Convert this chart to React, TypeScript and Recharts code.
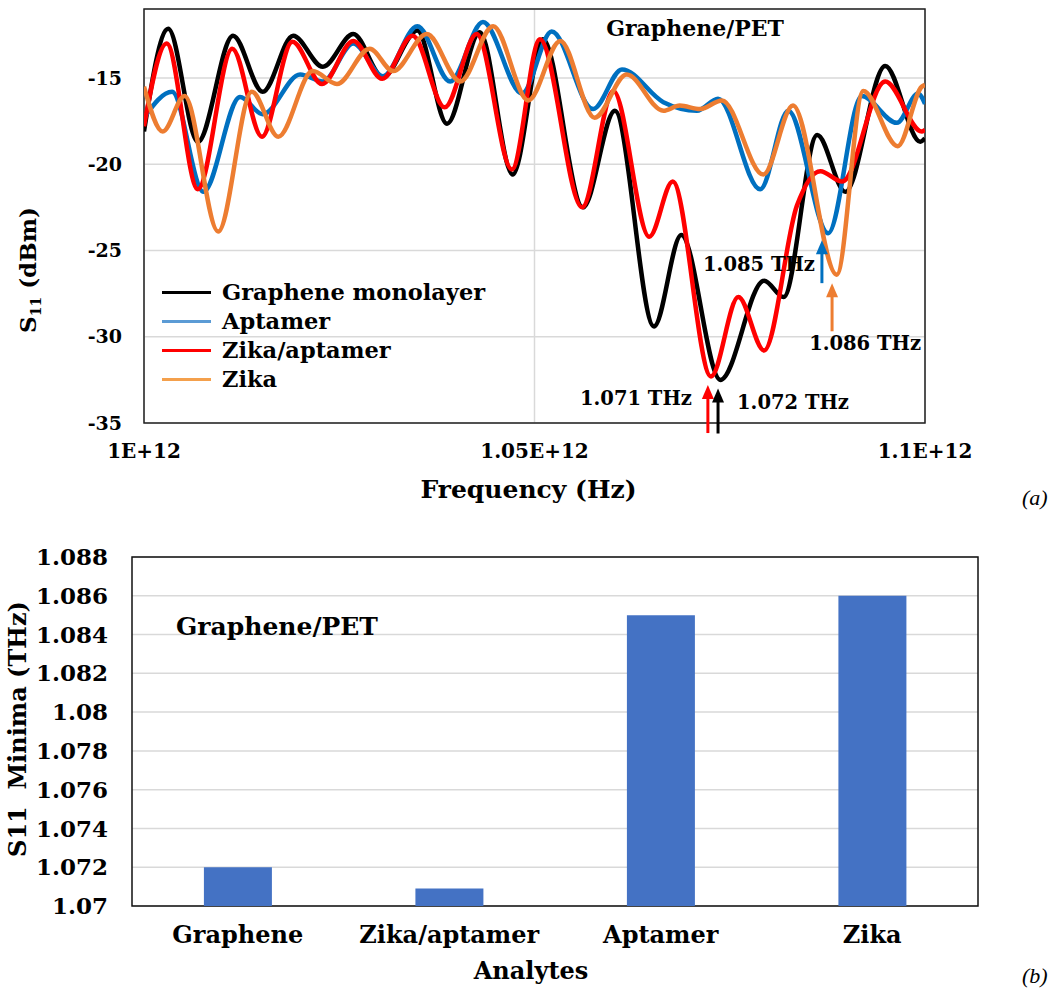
import React from 'react';
import {
  LineChart, Line, XAxis, YAxis, CartesianGrid, ReferenceArea, ReferenceDot, Legend,
  BarChart, Bar,
} from 'recharts';

const FONT = '"DejaVu Serif", Georgia, serif';
const TFONT = '"Liberation Serif", "Times New Roman", serif';

// ---------- Panel (a): S11 vs frequency (frequency in THz; axis shows Hz) ----------
const grapheneFreq = [1.0, 1.0031, 1.0069, 1.0114, 1.0152, 1.0191, 1.0229, 1.0268, 1.0306, 1.035, 1.0388, 1.043, 1.0472, 1.0511, 1.0562, 1.0603, 1.0653, 1.0688, 1.0738, 1.0794, 1.0819, 1.0862, 1.0898, 1.0949, 1.0994, 1.1];
const grapheneS11 = [-18.1, -12.15, -18.7, -12.55, -15.8, -12.55, -14.35, -12.45, -14.95, -12.25, -17.65, -12.35, -20.6, -12.75, -22.5, -16.9, -29.4, -24.1, -32.5, -26.75, -27.7, -18.3, -21.6, -14.3, -18.7, -18.5];

const aptamerFreq = [1.0, 1.0036, 1.0076, 1.0123, 1.0152, 1.02, 1.0229, 1.0268, 1.0306, 1.035, 1.0392, 1.0434, 1.0484, 1.0522, 1.0575, 1.0612, 1.0665, 1.0708, 1.0735, 1.0789, 1.0825, 1.0876, 1.0919, 1.0964, 1.0991, 1.1];
const aptamerS11 = [-17.3, -15.8, -21.6, -16.1, -17.1, -14.8, -15.2, -13.0, -14.9, -12.0, -15.2, -11.75, -15.9, -12.3, -16.8, -14.5, -16.4, -16.9, -16.2, -21.45, -16.9, -24.0, -16.05, -17.6, -15.9, -16.5];

const zikaAptamerFreq = [1.0, 1.0029, 1.0069, 1.0113, 1.0151, 1.019, 1.0228, 1.0268, 1.0305, 1.0344, 1.0385, 1.0426, 1.0471, 1.0507, 1.0561, 1.0601, 1.0647, 1.0677, 1.0726, 1.0761, 1.0794, 1.0836, 1.0866, 1.0894, 1.0949, 1.0996, 1.1];
const zikaAptamerS11 = [-17.8, -13.0, -21.45, -13.3, -18.4, -12.9, -15.35, -12.85, -15.05, -12.55, -16.7, -12.45, -20.3, -12.75, -22.5, -15.75, -24.2, -21.0, -32.3, -27.7, -30.8, -22.4, -20.4, -21.0, -15.2, -18.1, -18.0];

const zikaFreq = [1.0, 1.0024, 1.0052, 1.0095, 1.0138, 1.0172, 1.0216, 1.0247, 1.0289, 1.0319, 1.0362, 1.0405, 1.0447, 1.0492, 1.0533, 1.0577, 1.0618, 1.0665, 1.0686, 1.0712, 1.074, 1.0793, 1.0831, 1.0887, 1.0921, 1.0965, 1.0996, 1.1];
const zikaS11 = [-15.5, -18.1, -16.05, -23.9, -15.8, -18.4, -14.6, -15.35, -13.3, -14.6, -12.45, -15.2, -12.0, -16.3, -12.85, -17.3, -14.8, -16.9, -16.6, -16.8, -16.3, -20.6, -16.6, -26.4, -15.75, -18.95, -15.5, -15.4];

const seriesNames = ['Graphene monolayer', 'Aptamer', 'Zika/aptamer', 'Zika'];
const seriesColors = ['#000000', '#0070C0', '#FF0000', '#ED7D31'];
const legendColors = ['#000000', '#5B9BD5', '#FF0000', '#F4A04C'];

const xTicks = [1.0, 1.05, 1.1];
const yTicks = [-35, -30, -25, -20, -15];

// Minima markers (arrow tip location) and labels
const markerFreqs = [1.0722, 1.0735, 1.0868, 1.0881];
const markerLevels = [-32.8, -33.0, -24.4, -26.9];
const markerLabels = ['1.071 THz', '1.072 THz', '1.085 THz', '1.086 THz'];
// styling for each marker: arrow length, label offsets, anchor
const markerStyle = [
  { color: '#FF0000', len: 48, dx: -16, dy: 20, anchor: 'end' },
  { color: '#000000', len: 45, dx: 19, dy: 20, anchor: 'start' },
  { color: '#0070C0', len: 43, dx: -7, dy: 31, anchor: 'end' },
  { color: '#ED7D31', len: 48, dx: 33, dy: 67, anchor: 'middle' },
];

// ---------- Panel (b): S11 minima ----------
const analytes = ['Graphene', 'Zika/aptamer', 'Aptamer', 'Zika'];
const minimaTHz = [1.072, 1.0709, 1.085, 1.086];
const minimaTicks = [1.07, 1.072, 1.074, 1.076, 1.078, 1.08, 1.082, 1.084, 1.086, 1.088];

const zip = (f: number[], v: number[]) => f.map((x, i) => ({ f: x, v: v[i] }));
const lineData = [
  zip(grapheneFreq, grapheneS11),
  zip(aptamerFreq, aptamerS11),
  zip(zikaAptamerFreq, zikaAptamerS11),
  zip(zikaFreq, zikaS11),
];
const barData = analytes.map((a, i) => ({ name: a, v: minimaTHz[i] }));

const fmtHz = (v: number) => (v === 1 ? '1E+12' : `${+v.toFixed(3)}E+12`);
const fmtTHz = (v: number) => `${+v.toFixed(3)}`;

const Arrow = (props: any) => {
  const { cx, cy, idx } = props;
  const s = markerStyle[idx];
  if (cx == null || cy == null) return null;
  return (
    <g>
      <line x1={cx} y1={cy + 10} x2={cx} y2={cy + s.len} stroke={s.color} strokeWidth={3} />
      <polygon points={`${cx},${cy} ${cx - 6},${cy + 14} ${cx + 6},${cy + 14}`} fill={s.color} />
      <text x={cx + s.dx} y={cy + s.dy} textAnchor={s.anchor} fontFamily={FONT} fontWeight="bold" fontSize={19.5} fill="#000">
        {markerLabels[idx]}
      </text>
    </g>
  );
};

const LegendBox = () => (
  <div style={{ fontFamily: FONT, fontWeight: 'bold', fontSize: 22.5, color: '#000', lineHeight: '29px' }}>
    {seriesNames.map((n, i) => (
      <div key={n} style={{ display: 'flex', alignItems: 'center', whiteSpace: 'nowrap' }}>
        <span style={{ display: 'inline-block', width: 49, height: 3, background: legendColors[i], marginRight: 11 }} />
        <span>{n}</span>
      </div>
    ))}
  </div>
);

const XTitleA = (props: any) => {
  const { viewBox } = props;
  return (
    <text x={viewBox.x + viewBox.width / 2 - 6} y={viewBox.y + 75} textAnchor="middle" fontFamily={FONT} fontWeight="bold" fontSize={25} fill="#000">
      Frequency (Hz)
    </text>
  );
};

const YTitleA = () => (
  <text transform="translate(36,270) rotate(-90)" textAnchor="middle" fontFamily={FONT} fontWeight="bold" fontSize={23} fill="#000">
    S<tspan fontSize={14} dy={5}>11</tspan><tspan dy={-5}> (dBm)</tspan>
  </text>
);

const XTitleB = (props: any) => {
  const { viewBox } = props;
  return (
    <text x={viewBox.x + viewBox.width / 2 - 24} y={viewBox.y + 73} textAnchor="middle" fontFamily={FONT} fontWeight="bold" fontSize={24} fill="#000">
      Analytes
    </text>
  );
};

const YTitleB = () => (
  <text transform="translate(26,729) rotate(-90)" textAnchor="middle" fontFamily={FONT} fontWeight="bold" fontSize={24} fill="#000" style={{ whiteSpace: 'pre' }}>
    S11  Minima (THz)
  </text>
);

export default function App() {
  return (
    <div style={{ position: 'absolute', left: 0, top: 0, width: 1052, height: 994, background: '#fff', overflow: 'hidden' }}>
      <div style={{ position: 'absolute', left: 0, top: 0 }}>
        <LineChart width={1052} height={510} margin={{ top: 9, right: 127, bottom: 0, left: 0 }}>
          <CartesianGrid stroke="#d9d9d9" strokeWidth={1.5} />
          <XAxis
            dataKey="f" type="number" domain={[1.0, 1.1]} ticks={xTicks} allowDataOverflow
            height={87} axisLine={false} tickLine={false} tickMargin={15}
            tickFormatter={fmtHz}
            tick={{ fontFamily: FONT, fontWeight: 'bold', fontSize: 20, fill: '#000' }}
            label={<XTitleA />}
          />
          <YAxis
            type="number" domain={[-35, -11]} ticks={yTicks} allowDataOverflow
            width={144} axisLine={false} tickLine={false} tickMargin={16}
            tick={{ fontFamily: FONT, fontWeight: 'bold', fontSize: 19, fill: '#000' }}
          />
          <ReferenceArea y1={-35} y2={-11} fill="none" stroke="#222" strokeWidth={1.5} ifOverflow="visible" />
          {lineData.map((d, i) => (
            <Line key={seriesNames[i]} data={d} dataKey="v" name={seriesNames[i]} type="monotone"
              stroke={seriesColors[i]} strokeWidth={4.5} dot={false} isAnimationActive={false} />
          ))}
          {markerFreqs.map((f, i) => (
            <ReferenceDot key={markerLabels[i]} x={f} y={markerLevels[i]} r={0} ifOverflow="visible"
              shape={(p: any) => <Arrow {...p} idx={i} />} />
          ))}
          <Legend layout="vertical" align="center" verticalAlign="middle"
            wrapperStyle={{ position: 'absolute', left: 162, top: 278, width: 400 }}
            content={() => <LegendBox />} />
        </LineChart>
      </div>

      <div style={{ position: 'absolute', left: 0, top: 520 }}>
        <BarChart width={1052} height={474} data={barData} margin={{ top: 37, right: 74, bottom: 0, left: 0 }} barCategoryGap="34%">
          <CartesianGrid stroke="#d9d9d9" strokeWidth={1.5} vertical={false} />
          <XAxis dataKey="name" height={88} axisLine={false} tickLine={false} tickMargin={14}
            tick={{ fontFamily: FONT, fontWeight: 'bold', fontSize: 24, fill: '#000' }}
            label={<XTitleB />} />
          <YAxis type="number" domain={[1.07, 1.088]} ticks={minimaTicks} allowDataOverflow
            width={132} axisLine={false} tickLine={false} tickMargin={18}
            tickFormatter={fmtTHz}
            tick={{ fontFamily: FONT, fontWeight: 'bold', fontSize: 23, fill: '#000' }} />
          <Bar dataKey="v" fill="#4472C4" isAnimationActive={false} />
          <ReferenceArea y1={1.07} y2={1.088} fill="none" stroke="#111" strokeWidth={1.5} ifOverflow="visible" />
        </BarChart>
      </div>

      <svg width={1052} height={994} style={{ position: 'absolute', left: 0, top: 0, pointerEvents: 'none' }}>
        <YTitleA />
        <YTitleB />
        <text x={695} y={36} textAnchor="middle" fontFamily={FONT} fontWeight="bold" fontSize={22} fill="#000">Graphene/PET</text>
        <text x={277} y={635} textAnchor="middle" fontFamily={FONT} fontWeight="bold" fontSize={25} fill="#000">Graphene/PET</text>
        <text x={1022} y={505} fontFamily={TFONT} fontStyle="italic" fontSize={22} fill="#000">(a)</text>
        <text x={1022} y={983} fontFamily={TFONT} fontStyle="italic" fontSize={22} fill="#000">(b)</text>
      </svg>
    </div>
  );
}
